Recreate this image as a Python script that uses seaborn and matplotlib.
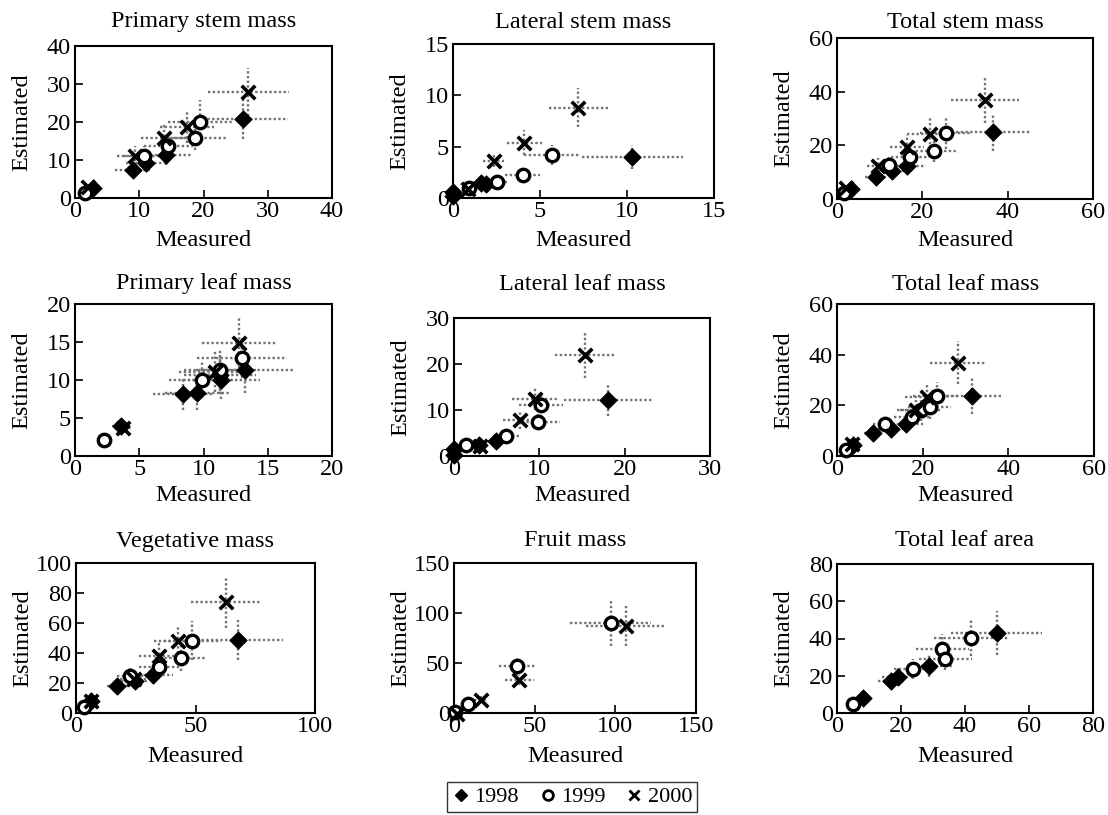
import matplotlib
matplotlib.use("Agg")
import matplotlib.pyplot as plt
from matplotlib.lines import Line2D
import seaborn as sns
import pandas as pd

# points per panel and year: (measured, estimated, x error, y error)
primary_stem_1998 = [(2.8, 2.6, 0.6, 0.5), (9.0, 7.4, 2.7, 2.0), (11.0, 9.2, 3.0, 2.3), (14.1, 11.2, 3.9, 2.6), (26.1, 20.8, 7.0, 5.2)]
primary_stem_1999 = [(1.5, 1.2, 0.4, 0.3), (10.8, 11.1, 3.2, 2.6), (14.5, 13.6, 3.8, 3.0), (18.6, 15.8, 5.0, 3.2), (19.5, 20.0, 5.0, 5.8)]
primary_stem_2000 = [(2.0, 3.0, 0.5, 0.7), (9.4, 11.1, 2.8, 2.6), (13.8, 15.8, 3.6, 3.4), (17.4, 18.8, 4.2, 4.2), (27.0, 28.0, 6.3, 6.3)]

lateral_stem_1998 = [(0.0, 0.2, 0.1, 0.1), (0.0, 0.6, 0.1, 0.2), (1.6, 1.45, 0.4, 0.3), (1.9, 1.35, 0.5, 0.3), (10.3, 4.0, 2.9, 1.2)]
lateral_stem_1999 = [(0.9, 1.0, 0.3, 0.3), (2.5, 1.6, 0.6, 0.4), (4.0, 2.2, 1.0, 0.5), (5.7, 4.2, 1.6, 1.0)]
lateral_stem_2000 = [(0.85, 0.9, 0.3, 0.3), (2.35, 3.6, 0.6, 0.6), (4.1, 5.4, 1.0, 1.2), (7.2, 8.8, 1.7, 1.9)]

total_stem_1998 = [(3.3, 3.6, 0.8, 0.8), (9.1, 8.3, 2.5, 1.8), (12.9, 10.4, 3.2, 2.4), (16.4, 12.4, 4.5, 3.0), (36.6, 24.8, 8.8, 6.8)]
total_stem_1999 = [(1.6, 2.1, 0.4, 0.5), (12.1, 12.6, 3.0, 3.0), (17.1, 15.7, 4.5, 3.6), (22.8, 18.0, 5.5, 4.2), (25.5, 24.7, 6.0, 6.0)]
total_stem_2000 = [(2.0, 4.0, 0.5, 0.9), (9.7, 12.4, 2.6, 3.0), (16.4, 19.5, 4.0, 4.5), (21.8, 24.4, 5.3, 5.8), (34.7, 37.0, 8.0, 8.5)]

primary_leaf_1998 = [(3.6, 3.9, 0.7, 0.7), (8.4, 8.2, 2.3, 2.2), (9.5, 8.3, 2.5, 2.2), (11.3, 10.7, 2.8, 2.6), (11.4, 10.0, 3.0, 2.5), (13.2, 11.3, 3.8, 3.0)]
primary_leaf_1999 = [(2.25, 2.1, 0.5, 0.5), (9.85, 10.0, 2.5, 2.4), (11.3, 11.3, 2.8, 2.8), (13.0, 12.9, 3.5, 2.6)]
primary_leaf_2000 = [(3.7, 3.7, 0.7, 0.7), (10.9, 11.1, 2.8, 2.7), (12.8, 14.9, 2.9, 3.3)]

lateral_leaf_1998 = [(0.0, 0.15, 0.1, 0.2), (0.0, 1.6, 0.1, 0.4), (2.9, 2.5, 0.7, 0.6), (4.9, 3.2, 1.2, 0.8), (18.1, 12.1, 5.2, 3.4)]
lateral_leaf_1999 = [(1.45, 2.3, 0.4, 0.5), (6.1, 4.3, 1.5, 1.0), (9.9, 7.4, 2.5, 1.8), (10.2, 11.0, 2.6, 2.6)]
lateral_leaf_2000 = [(3.0, 2.2, 0.7, 0.5), (7.7, 7.8, 1.9, 1.9), (9.5, 12.5, 2.7, 2.5), (15.4, 22.0, 3.6, 5.0)]

total_leaf_1998 = [(3.7, 4.2, 0.8, 0.9), (8.4, 9.2, 2.1, 2.0), (12.5, 10.6, 3.0, 2.4), (16.0, 12.8, 4.0, 3.0), (31.6, 23.6, 7.0, 7.0)]
total_leaf_1999 = [(2.2, 2.2, 0.5, 0.5), (11.3, 12.5, 2.8, 2.8), (17.6, 15.2, 4.2, 3.5), (19.5, 18.1, 4.8, 4.2), (21.6, 19.2, 5.0, 4.5), (23.3, 23.6, 5.5, 5.8)]
total_leaf_2000 = [(3.6, 4.6, 0.8, 1.0), (18.5, 18.1, 4.5, 4.2), (20.9, 23.4, 5.0, 5.5), (28.2, 36.9, 6.6, 8.5)]

vegetative_1998 = [(6.1, 7.8, 1.5, 1.8), (17.3, 18.1, 4.5, 4.0), (24.7, 21.2, 6.0, 5.0), (32.4, 25.2, 8.0, 6.0), (67.6, 48.7, 19.0, 13.5)]
vegetative_1999 = [(3.5, 4.0, 0.9, 1.0), (22.6, 24.6, 5.5, 5.5), (34.7, 30.8, 8.5, 7.0), (43.9, 36.4, 11.0, 8.5), (48.7, 48.2, 12.0, 13.0)]
vegetative_2000 = [(6.4, 8.0, 1.5, 1.8), (24.3, 23.0, 6.0, 5.5), (34.9, 38.2, 8.5, 9.0), (42.5, 48.0, 10.0, 11.0), (62.6, 73.9, 14.6, 17.0)]

fruit_1998 = []
fruit_1999 = [(0.5, 0.8, 0.3, 0.3), (8.7, 9.4, 2.2, 2.3), (39.1, 46.9, 11.4, 9.0), (97.1, 90.4, 25.0, 23.0)]
fruit_2000 = [(2.0, -1.0, 0.5, 0.5), (16.6, 13.4, 4.0, 3.5), (40.4, 32.8, 9.0, 5.0), (106.6, 87.0, 25.0, 20.0)]

leaf_area_1998 = [(8.0, 8.3, 1.8, 1.8), (16.9, 17.0, 4.2, 4.0), (19.0, 19.4, 4.8, 4.5), (28.8, 25.1, 7.0, 6.0), (49.9, 43.0, 14.3, 12.0)]
leaf_area_1999 = [(5.0, 5.0, 1.2, 1.2), (23.7, 23.5, 5.8, 5.5), (32.9, 34.6, 8.3, 8.0), (33.8, 29.2, 8.3, 6.0), (41.8, 40.4, 11.5, 10.0)]
leaf_area_2000 = []

titles = ["Primary stem mass", "Lateral stem mass", "Total stem mass",
          "Primary leaf mass", "Lateral leaf mass", "Total leaf mass",
          "Vegetative mass", "Fruit mass", "Total leaf area"]
axis_max = [40, 15, 60, 20, 30, 60, 100, 150, 80]
x_step = [10, 5, 20, 5, 10, 20, 50, 50, 20]
y_step = [10, 5, 20, 5, 10, 20, 20, 50, 20]
years = ["1998", "1999", "2000"]

panels = [
    (primary_stem_1998, primary_stem_1999, primary_stem_2000),
    (lateral_stem_1998, lateral_stem_1999, lateral_stem_2000),
    (total_stem_1998, total_stem_1999, total_stem_2000),
    (primary_leaf_1998, primary_leaf_1999, primary_leaf_2000),
    (lateral_leaf_1998, lateral_leaf_1999, lateral_leaf_2000),
    (total_leaf_1998, total_leaf_1999, total_leaf_2000),
    (vegetative_1998, vegetative_1999, vegetative_2000),
    (fruit_1998, fruit_1999, fruit_2000),
    (leaf_area_1998, leaf_area_1999, leaf_area_2000),
]

rows = []
for title, sets in zip(titles, panels):
    for year, pts in zip(years, sets):
        for mx, ey, xe, ye in pts:
            rows.append({"panel": title, "year": year, "Measured": mx,
                         "Estimated": ey, "xerr": xe, "yerr": ye})
df = pd.DataFrame(rows)

sns.set_style("ticks", {"axes.edgecolor": "black", "xtick.color": "black",
                        "ytick.color": "black", "text.color": "black"})
plt.rcParams["font.family"] = ["Liberation Serif", "DejaVu Serif"]
FS = 17.5

W, H = 1108, 815
fig = plt.figure(figsize=(W / 100, H / 100), dpi=100)

# axes boxes in pixels: left, top, right, bottom
boxes = [(75, 46, 332, 198), (453, 44, 714, 198), (837, 38, 1093, 199),
         (75, 304, 332, 456), (454, 318, 710, 456), (837, 304, 1094, 456),
         (76, 563, 315, 713), (454, 563, 696, 713), (837, 564, 1093, 713)]
title_y = [22, 284, 541]
xlabel_y = [241, 495, 757]

styles = {
    "1998": dict(marker="D", color="black", edgecolor="black", s=80, linewidth=0.5),
    "1999": dict(marker="o", color="white", edgecolor="black", s=80, linewidth=2.4),
    "2000": dict(marker="x", color="black", s=95, linewidth=2.6),
}

for i, (title, box) in enumerate(zip(titles, boxes)):
    l, t, r, b = box
    ax = fig.add_axes([l / W, 1 - b / H, (r - l) / W, (b - t) / H])
    sub = df[df["panel"] == title]
    for year in years:
        d = sub[sub["year"] == year]
        if d.empty:
            continue
        eb = ax.errorbar(d["Measured"], d["Estimated"], xerr=d["xerr"], yerr=d["yerr"],
                         fmt="none", ecolor="0.45", elinewidth=1.7, capsize=0, zorder=1)
        for lc in eb[2]:
            lc.set_linestyle((0, (1, 1)))
            lc.set_clip_on(False)
    for year in years:
        d = sub[sub["year"] == year]
        if d.empty:
            continue
        sns.scatterplot(data=d, x="Measured", y="Estimated", ax=ax, zorder=3,
                        clip_on=False, legend=False, **styles[year])
    m = axis_max[i]
    ax.set_xlim(0, m)
    ax.set_ylim(0, m)
    ax.set_xticks(range(0, m + 1, x_step[i]))
    ax.set_yticks(range(0, m + 1, y_step[i]))
    ax.set_xlabel("")
    ax.set_ylabel("")
    ax.tick_params(direction="in", length=6, width=1.2, top=False, right=False,
                   labelsize=FS, colors="black")
    ax.tick_params(axis="x", pad=2)
    ax.tick_params(axis="y", pad=3)
    for sp in ax.spines.values():
        sp.set_linewidth(1.5)
        sp.set_color("black")
        sp.set_visible(True)
    row = i // 3
    cx = (l + r) / 2
    fig.text(cx / W, 1 - title_y[row] / H, title, ha="center", va="center", fontsize=FS)
    fig.text(cx / W, 1 - xlabel_y[row] / H, "Measured", ha="center", va="center", fontsize=FS)
    fig.text((l - 53) / W, 1 - ((t + b) / 2) / H, "Estimated", ha="center", va="center",
             rotation=90, fontsize=FS)

handles = [
    Line2D([], [], marker="D", color="black", ls="none", markersize=6),
    Line2D([], [], marker="o", markerfacecolor="white", markeredgecolor="black",
           markeredgewidth=2, ls="none", markersize=7),
    Line2D([], [], marker="x", color="black", markeredgewidth=2, ls="none", markersize=7),
]
leg = fig.legend(handles, years, loc="center", bbox_to_anchor=(572 / W, 1 - 797 / H),
                 ncol=3, frameon=True, fancybox=False, edgecolor="black",
                 handletextpad=0.2, columnspacing=0.9, borderpad=0.2,
                 handlelength=0.8, fontsize=16)
leg.get_frame().set_linewidth(1.0)

fig.savefig("out.png", dpi=100)
